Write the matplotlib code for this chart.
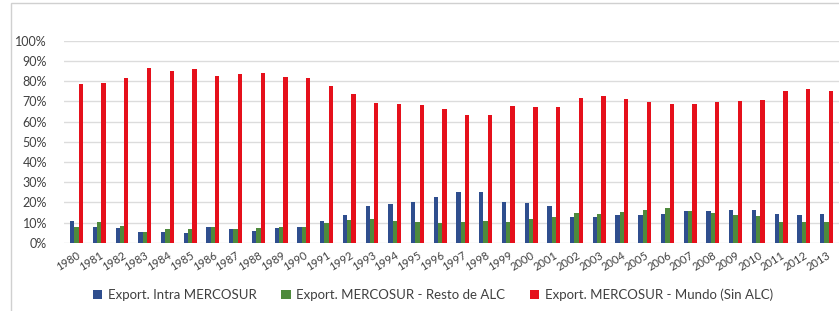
import matplotlib.pyplot as plt
import numpy as np
from matplotlib.patches import Rectangle
from matplotlib.ticker import FuncFormatter, MultipleLocator

plt.rcParams["font.family"] = ["Lato", "DejaVu Sans"]

years = [str(y) for y in range(1980, 2014)]

intra_mercosur = [
    10.8, 8.0, 7.2, 5.2, 5.5, 4.7, 7.7, 6.8, 5.8, 7.3,
    8.0, 10.8, 13.7, 18.2, 19.0, 20.0, 22.8, 25.0, 25.0, 20.3,
    19.7, 18.2, 12.6, 12.8, 13.7, 13.7, 14.0, 15.7, 15.7, 16.0,
    16.0, 14.0, 13.7, 14.0,
]
resto_alc = [
    8.0, 10.5, 8.5, 5.2, 6.8, 6.8, 7.7, 6.8, 7.3, 7.7,
    8.0, 10.0, 11.2, 11.7, 10.8, 10.3, 10.0, 10.3, 10.8, 10.3,
    11.7, 12.8, 14.8, 14.0, 15.0, 16.2, 17.0, 15.7, 14.5, 13.7,
    13.2, 10.3, 10.3, 10.3,
]
mundo_sin_alc = [
    78.5, 79.3, 81.8, 86.8, 85.0, 86.2, 82.4, 83.7, 84.2, 81.9,
    81.6, 77.5, 73.5, 69.3, 68.8, 68.0, 66.4, 63.4, 63.2, 67.6,
    67.3, 67.3, 71.5, 72.9, 71.2, 69.9, 68.7, 68.7, 69.5, 70.2,
    70.9, 75.4, 76.0, 75.4,
]

labels = [
    "Export. Intra MERCOSUR",
    "Export. MERCOSUR - Resto de ALC",
    "Export. MERCOSUR - Mundo (Sin ALC)",
]
colors = ["#2F4E8E", "#4E8A3C", "#E5101B"]


def main() -> None:
    fig = plt.figure(figsize=(8.39, 3.11), dpi=100)
    ax = fig.add_axes([0.0758, 0.2196, 0.9242, 0.649])

    x = np.arange(len(years))
    w = 0.19
    series = [intra_mercosur, resto_alc, mundo_sin_alc]
    for i, (vals, lab, col) in enumerate(zip(series, labels, colors)):
        ax.bar(x + (i - 1) * w, np.array(vals) / 100, width=w, color=col,
               label=lab, zorder=3)

    ax.set_xlim(-0.57, len(years) - 0.45)
    ax.set_ylim(0, 1.0)
    ax.yaxis.set_major_locator(MultipleLocator(0.1))
    ax.yaxis.set_major_formatter(FuncFormatter(lambda v, _: f"{v * 100:.0f}%"))
    ax.grid(axis="y", color="#DCDCDC", linewidth=1.0, zorder=0)
    for s in ax.spines.values():
        s.set_visible(False)
    ax.tick_params(axis="both", length=0, labelsize=9, colors="#404040")
    ax.tick_params(axis="y", pad=12)

    ax.set_xticks(x)
    ax.set_xticklabels(years, rotation=32, ha="right", va="top",
                       rotation_mode="anchor", fontsize=8)
    ax.tick_params(axis="x", pad=5)

    fig.legend(loc="center", bbox_to_anchor=(0.516, 0.051), ncol=3,
               frameon=False, fontsize=9.5, handlelength=0.7, handleheight=0.7,
               handletextpad=0.4, columnspacing=1.9, labelcolor="#404040")

    fig.add_artist(Rectangle((10.5 / 839, -0.1), 1.2, 1.1 - 3 / 311,
                             transform=fig.transFigure, fill=False,
                             edgecolor="#D0D0D0", linewidth=1.0))

    fig.savefig("out.png", dpi=100)


if __name__ == "__main__":
    main()
